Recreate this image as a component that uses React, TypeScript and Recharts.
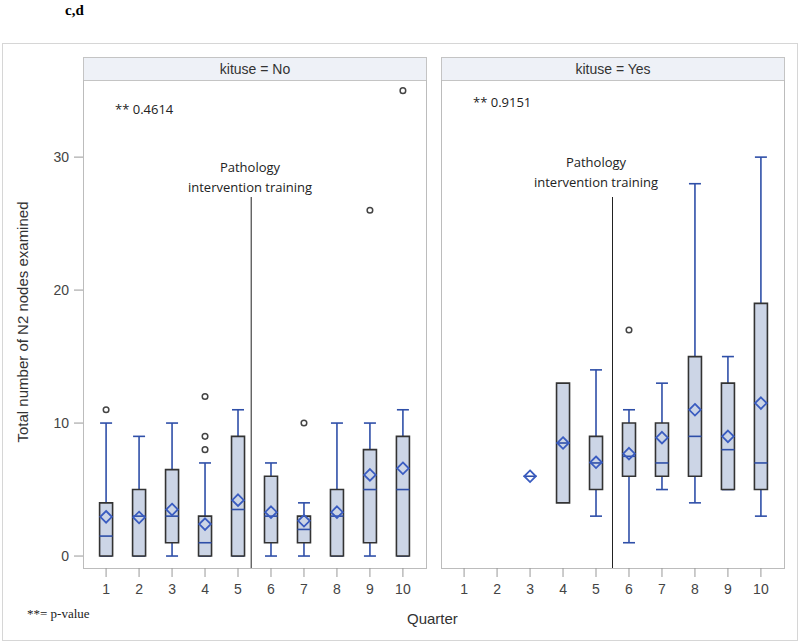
import React from 'react';
import {
  ComposedChart,
  Bar,
  Scatter,
  ErrorBar,
  XAxis,
  YAxis,
  ReferenceLine,
} from 'recharts';

// kituse = No
const leftQuarters = [1, 2, 3, 4, 5, 6, 7, 8, 9, 10];
const leftMin = [0, 0, 0, 0, 0, 0, 0, 0, 0, 0];
const leftQ1 = [0, 0, 1, 0, 0, 1, 1, 0, 1, 0];
const leftMedian = [1.5, 3, 3, 1, 3.5, 3, 2, 3, 5, 5];
const leftQ3 = [4, 5, 6.5, 3, 9, 6, 3, 5, 8, 9];
const leftMax = [10, 9, 10, 7, 11, 7, 4, 10, 10, 11];
const leftMean = [2.95, 2.9, 3.5, 2.4, 4.2, 3.3, 2.65, 3.3, 6.1, 6.6];
const leftOutliers = [
  { q: 1, v: 11 },
  { q: 4, v: 12 },
  { q: 4, v: 9 },
  { q: 4, v: 8 },
  { q: 7, v: 10 },
  { q: 9, v: 26 },
  { q: 10, v: 35 },
];

// kituse = Yes
const rightQuarters = [3, 4, 5, 6, 7, 8, 9, 10];
const rightMin = [6, 4, 3, 1, 5, 4, 5, 3];
const rightQ1 = [6, 4, 5, 6, 6, 6, 5, 5];
const rightMedian = [6, 8.5, 7, 7.5, 7, 9, 8, 7];
const rightQ3 = [6, 13, 9, 10, 10, 15, 13, 19];
const rightMax = [6, 13, 14, 11, 13, 28, 15, 30];
const rightMean = [6, 8.5, 7.05, 7.7, 8.9, 11, 9, 11.5];
const rightOutliers = [{ q: 6, v: 17 }];

const xTicks = [1, 2, 3, 4, 5, 6, 7, 8, 9, 10];
const yTicks = [0, 10, 20, 30];

const BLUE = '#2f4fa8';
const BOX_FILL = '#ccd5e6';
const BOX_STROKE = '#333';
const FONT = '"Liberation Sans", Arial, sans-serif';
const NOTE_FONT = '"Open Sans", sans-serif';

function buildRows(q: number[], mn: number[], q1: number[], med: number[], q3: number[], mx: number[], mean: number[]) {
  return q.map((quarter, i) => ({
    q: quarter,
    box: [q1[i], q3[i]],
    median: med[i],
    mean: mean[i],
    err: [med[i] - mn[i], mx[i] - med[i]],
    hasWhisker: mn[i] < q1[i] || mx[i] > q3[i],
  }));
}

const leftRows = buildRows(leftQuarters, leftMin, leftQ1, leftMedian, leftQ3, leftMax, leftMean);
const rightRows = buildRows(rightQuarters, rightMin, rightQ1, rightMedian, rightQ3, rightMax, rightMean);

const Empty = () => <g />;

const MedianShape = (props: any) => {
  const { cx, cy } = props;
  return <line x1={cx - 6.5} x2={cx + 6.5} y1={cy} y2={cy} stroke={BLUE} strokeWidth={1.6} />;
};

const MeanShape = (props: any) => {
  const { cx, cy } = props;
  const r = 5.8;
  return (
    <polygon
      points={`${cx},${cy - r} ${cx + r},${cy} ${cx},${cy + r} ${cx - r},${cy}`}
      fill="none"
      stroke="#3a5cc0"
      strokeWidth={1.8}
    />
  );
};

const OutlierShape = (props: any) => {
  const { cx, cy } = props;
  return <circle cx={cx} cy={cy} r={2.8} fill="none" stroke="#444" strokeWidth={1.5} />;
};

function Panel({
  rows,
  outliers,
  showY,
  lineX,
  width,
  margin,
}: {
  rows: any[];
  outliers: { q: number; v: number }[];
  showY: boolean;
  lineX: number;
  width: number;
  margin: any;
}) {
  const whiskerRows = rows.filter((r) => r.hasWhisker);
  return (
    <ComposedChart width={width} height={643} data={rows} margin={margin}>
      <XAxis
        type="number"
        dataKey="q"
        domain={[0.3, 10.7]}
        ticks={xTicks}
        allowDataOverflow
        axisLine={false}
        tickSize={9}
        tickMargin={7}
        height={30}
        tick={{ fill: '#444', fontSize: 14, fontFamily: FONT }}
        tickLine={{ stroke: '#999' }}
        interval={0}
      />
      <YAxis
        type="number"
        domain={[-0.9, 35.8]}
        ticks={yTicks}
        allowDataOverflow
        hide={!showY}
        width={60}
        axisLine={false}
        tickSize={9}
        tickMargin={5}
        tick={{ fill: '#444', fontSize: 14, fontFamily: FONT }}
        tickLine={{ stroke: '#999' }}
      />
      <ReferenceLine
        segment={[
          { x: lineX, y: 27 },
          { x: lineX, y: -0.9 },
        ]}
        stroke="#222"
        strokeWidth={1}
      />
      <Scatter
        data={whiskerRows}
        dataKey="median"
        shape={Empty}
        isAnimationActive={false}
        zIndex={250}
      >
        <ErrorBar dataKey="err" direction="y" width={6} stroke={BLUE} strokeWidth={1.6} isAnimationActive={false} zIndex={250} />
      </Scatter>
      <Bar
        dataKey="box"
        barSize={13}
        fill={BOX_FILL}
        stroke={BOX_STROKE}
        strokeWidth={1.6}
        isAnimationActive={false}
        zIndex={300}
      />
      <Scatter dataKey="median" shape={MedianShape} isAnimationActive={false} zIndex={600} />
      <Scatter dataKey="mean" shape={MeanShape} isAnimationActive={false} zIndex={610} />
      <Scatter data={outliers} dataKey="v" shape={OutlierShape} isAnimationActive={false} zIndex={620} />
    </ComposedChart>
  );
}

const abs = (s: React.CSSProperties): React.CSSProperties => ({ position: 'absolute', ...s });

export default function App() {
  return (
    <div style={abs({ left: 0, top: 0, width: 800, height: 643, background: '#fff', overflow: 'hidden' })}>
      <div style={abs({ left: 65, top: 2, fontFamily: '"Liberation Serif", serif', fontWeight: 'bold', fontSize: 15, lineHeight: '17px' })}>c,d</div>
      <div style={abs({ left: 2, top: 43, width: 794, height: 596, border: '1px solid #d6d6d6' })} />

      {/* panel headers */}
      <div style={abs({ left: 83, top: 57, width: 342, height: 22, background: '#eef1f7', border: '1px solid #c4c4c4', textAlign: 'center', lineHeight: '22px', fontFamily: FONT, fontSize: 14, color: '#333' })}>
        kituse = No
      </div>
      <div style={abs({ left: 441, top: 57, width: 342, height: 22, background: '#eef1f7', border: '1px solid #c4c4c4', textAlign: 'center', lineHeight: '22px', fontFamily: FONT, fontSize: 14, color: '#333' })}>
        kituse = Yes
      </div>

      {/* plot frames */}
      <div style={abs({ left: 83, top: 80, width: 342, height: 488, border: '1px solid #bcbcbc', borderTop: 'none' })} />
      <div style={abs({ left: 441, top: 80, width: 342, height: 488, border: '1px solid #bcbcbc', borderTop: 'none' })} />

      <div style={abs({ left: 0, top: 0 })}>
        <Panel rows={leftRows} outliers={leftOutliers} showY lineX={5.4} width={440} margin={{ top: 80, right: 14, bottom: 45, left: 23 }} />
      </div>
      <div style={abs({ left: 440, top: 0 })}>
        <Panel rows={rightRows} outliers={rightOutliers} showY={false} lineX={5.5} width={360} margin={{ top: 80, right: 16, bottom: 45, left: 1 }} />
      </div>

      {/* annotations */}
      <div style={abs({ left: 115, top: 100, fontFamily: NOTE_FONT, fontSize: 13, color: '#222' })}>** 0.4614</div>
      <div style={abs({ left: 473, top: 93, fontFamily: NOTE_FONT, fontSize: 13, color: '#222' })}>** 0.9151</div>
      <div style={abs({ left: 160, top: 157, width: 180, textAlign: 'center', fontFamily: NOTE_FONT, fontSize: 13, color: '#222', lineHeight: '20px' })}>
        Pathology
        <br />
        intervention training
      </div>
      <div style={abs({ left: 506, top: 152, width: 180, textAlign: 'center', fontFamily: NOTE_FONT, fontSize: 13, color: '#222', lineHeight: '20px' })}>
        Pathology
        <br />
        intervention training
      </div>

      {/* axis titles */}
      <div style={abs({ left: 22, top: 322, width: 0, height: 0 })}>
        <div style={{ position: 'absolute', left: 0, top: 0, transform: 'translate(-50%, -50%) rotate(-90deg)', whiteSpace: 'nowrap', fontFamily: FONT, fontSize: 15, color: '#333' }}>
          Total number of N2 nodes examined
        </div>
      </div>
      <div style={abs({ left: 407, top: 610, fontFamily: FONT, fontSize: 15, color: '#333' })}>Quarter</div>
      <div style={abs({ left: 27, top: 606, fontFamily: '"Liberation Serif", serif', fontSize: 13, color: '#222' })}>**= p-value</div>
    </div>
  );
}
